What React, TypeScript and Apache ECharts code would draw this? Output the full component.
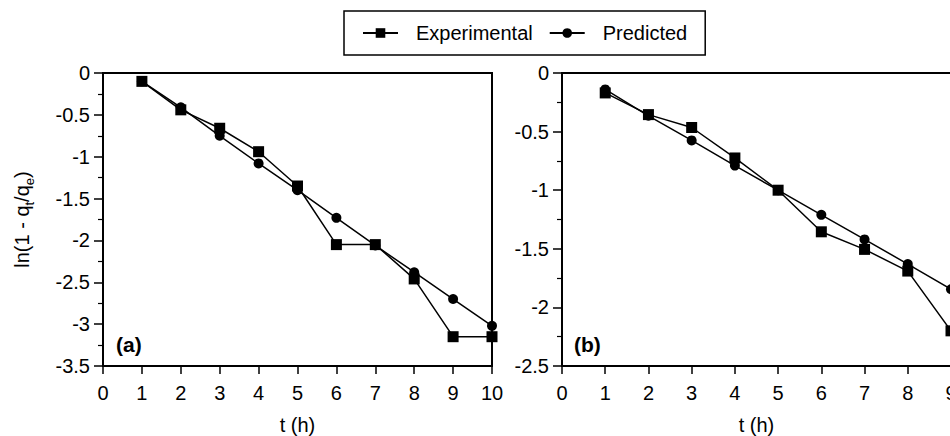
import React, { useEffect, useRef } from "react";
import * as echarts from "echarts";

const hoursA = [1, 2, 3, 4, 5, 6, 7, 8, 9, 10];
const experimentalA = [-0.1, -0.44, -0.66, -0.94, -1.35, -2.05, -2.05, -2.46, -3.15, -3.15];
const predictedA = [-0.1, -0.41, -0.75, -1.08, -1.4, -1.73, -2.06, -2.38, -2.7, -3.02];

const hoursB = [1, 2, 3, 4, 5, 6, 7, 8, 9];
const experimentalB = [-0.17, -0.355, -0.465, -0.725, -1.0, -1.355, -1.505, -1.69, -2.2];
const predictedB = [-0.14, -0.365, -0.575, -0.79, -1.0, -1.21, -1.42, -1.63, -1.845];

const legendNames = ["Experimental", "Predicted"];
const panelLabels = ["(a)", "(b)"];
const xName = "t (h)";

const FONT = "Liberation Sans, Arial, sans-serif";

const pairs = (xs: number[], ys: number[]) => xs.map((x, i) => [x, ys[i]]);

export default function App() {
  const ref = useRef<HTMLDivElement>(null);
  useEffect(() => {
    document.body.style.margin = "0";
    const chart = echarts.init(ref.current!, undefined, { renderer: "svg" });
    const axisLine = { show: true, onZero: false, lineStyle: { color: "#000", width: 2 } };
    const labelStyle = { color: "#000", fontSize: 20, fontFamily: FONT };
    const mkX = (gridIndex: number, max: number) => ({
      type: "value",
      gridIndex,
      min: 0,
      max,
      interval: 1,
      axisLine,
      axisTick: { show: true, inside: false, length: 8, lineStyle: { color: "#000", width: 1.5 } },
      axisLabel: { ...labelStyle, margin: 17, showMaxLabel: true, hideOverlap: false },
      splitLine: { show: false },
      name: xName,
      nameLocation: "middle",
      nameGap: 49,
      nameTextStyle: { ...labelStyle, lineHeight: 20 },
    });
    const mkY = (gridIndex: number, min: number, withName: boolean) => ({
      type: "value",
      gridIndex,
      min,
      max: 0,
      interval: 0.5,
      axisLine,
      axisTick: { show: true, inside: false, length: 9, lineStyle: { color: "#000", width: 1.5 } },
      minorTick: { show: true, splitNumber: 2, length: 5, lineStyle: { color: "#000", width: 1.2 } },
      axisLabel: { ...labelStyle, margin: 13 },
      splitLine: { show: false },
      minorSplitLine: { show: false },
      ...(withName
        ? {
            name: "{a|ln(1 - q}{s|t}{a|/q}{s|e}{a|)}",
            nameLocation: "middle",
            nameGap: 67,
            nameRotate: 90,
            nameTextStyle: {
              rich: {
                a: { fontSize: 20, fontFamily: FONT, color: "#000", lineHeight: 28 },
                s: { fontSize: 13, fontFamily: FONT, color: "#000", lineHeight: 13, verticalAlign: "bottom" },
              },
            },
          }
        : {}),
    });
    const mkSeries = (name: string, idx: number, data: number[][], symbol: string, size: number) => ({
      type: "line",
      name,
      xAxisIndex: idx,
      yAxisIndex: idx,
      data,
      symbol,
      symbolSize: size,
      showSymbol: true,
      clip: false,
      itemStyle: { color: "#000" },
      lineStyle: { color: "#000", width: 1.5 },
    });
    const gridCommon = {
      top: 73,
      width: 389,
      height: 293,
      show: true,
      borderColor: "#000",
      borderWidth: 2,
      backgroundColor: "transparent",
      containLabel: false,
      outerBoundsMode: "none",
    };
    chart.setOption({
      animation: false,
      legend: {
        data: legendNames,
        left: 344,
        top: 11,
        orient: "horizontal",
        itemWidth: 35,
        itemHeight: 12,
        itemGap: 16,
        padding: [12, 18, 12, 18],
        borderColor: "#000",
        borderWidth: 1.5,
        selectedMode: false,
        textStyle: { ...labelStyle, padding: [0, 0, 0, 13] },
      },
      grid: [
        { left: 103, ...gridCommon },
        { left: 562, ...gridCommon },
      ],
      xAxis: [mkX(0, 10), mkX(1, 9)],
      yAxis: [mkY(0, -3.5, true), mkY(1, -2.5, false)],
      series: [
        mkSeries(legendNames[1], 0, pairs(hoursA, predictedA), "circle", 10),
        mkSeries(legendNames[0], 0, pairs(hoursA, experimentalA), "rect", 11),
        mkSeries(legendNames[1], 1, pairs(hoursB, predictedB), "circle", 10),
        mkSeries(legendNames[0], 1, pairs(hoursB, experimentalB), "rect", 11),
      ],
      graphic: [
        { type: "text", left: 116, top: 334, style: { text: panelLabels[0], fontSize: 21, fontWeight: "bold", fontFamily: FONT, fill: "#000" } },
        { type: "text", left: 574, top: 334, style: { text: panelLabels[1], fontSize: 21, fontWeight: "bold", fontFamily: FONT, fill: "#000" } },
      ],
    });
    return () => chart.dispose();
  }, []);
  return <div ref={ref} style={{ width: 950, height: 436 }} />;
}
